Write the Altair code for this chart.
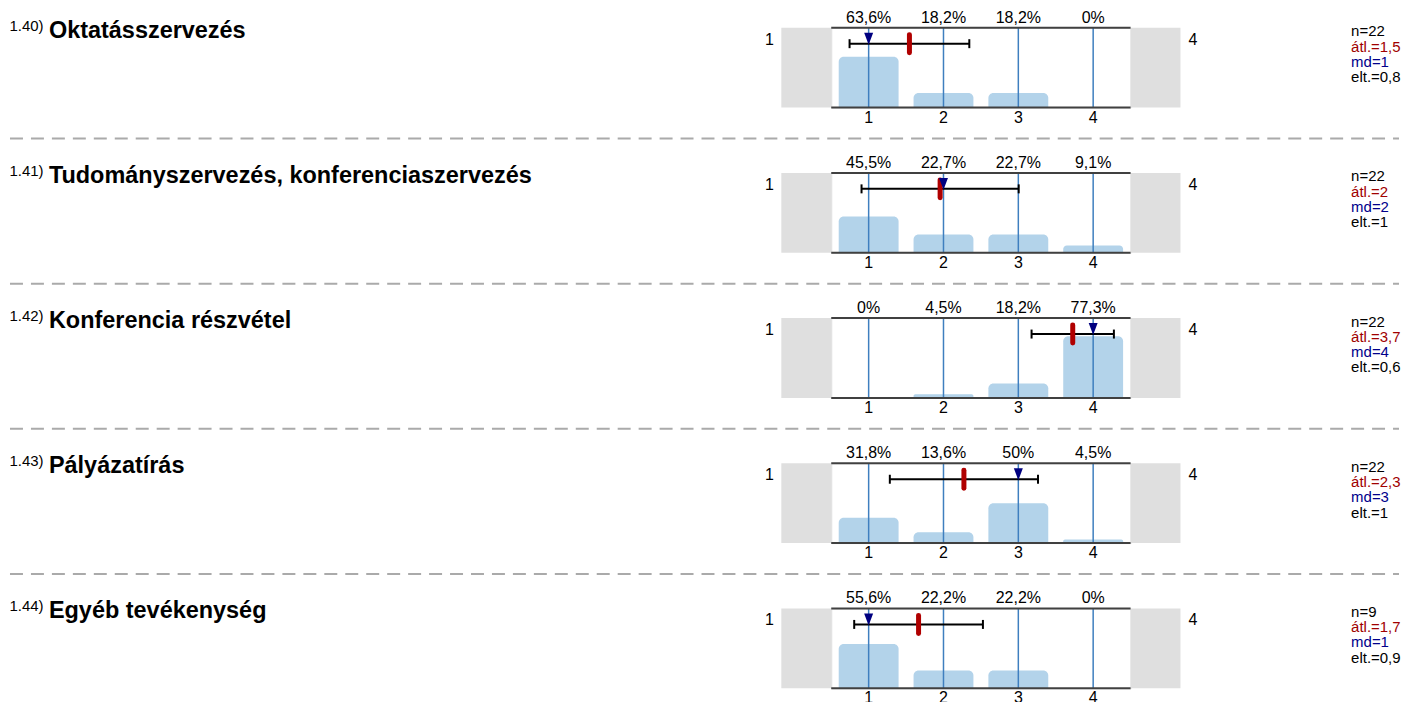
import altair as alt
import pandas as pd

codes = ["1.40)", "1.41)", "1.42)", "1.43)", "1.44)"]
titles = [
    "Oktatásszervezés",
    "Tudományszervezés, konferenciaszervezés",
    "Konferencia részvétel",
    "Pályázatírás",
    "Egyéb tevékenység",
]
categories = [1, 2, 3, 4]
percents = [
    [63.6, 18.2, 18.2, 0],
    [45.5, 22.7, 22.7, 9.1],
    [0, 4.5, 18.2, 77.3],
    [31.8, 13.6, 50, 4.5],
    [55.6, 22.2, 22.2, 0],
]
n_values = [22, 22, 22, 22, 9]
means = [1.545, 1.955, 3.727, 2.273, 1.667]
mean_labels = ["1,5", "2", "3,7", "2,3", "1,7"]
medians = [1, 2, 4, 3, 1]
sds = [0.8, 1.05, 0.55, 0.99, 0.86]
sd_labels = ["0,8", "1", "0,6", "1", "0,9"]

FONT = "Liberation Sans"
BAR_COLOR = "#b3d3ea"
LINE_BLUE = "#3f7fbf"
GREY_BOX = "#dfdfdf"
FRAME = "#404040"
MEAN_RED = "#b00000"
MEDIAN_BLUE = "#000080"


def fmt_pct(p):
    return f"{p:g}".replace(".", ",") + "%"


def row_chart(i, last=False):
    cat_df = pd.DataFrame({
        "cat": categories,
        "catlabel": [str(c) for c in categories],
        "pct": percents[i],
        "label": [fmt_pct(p) for p in percents[i]],
    })
    st = pd.DataFrame([{
        "mean": means[i],
        "lo": means[i] - sds[i],
        "hi": means[i] + sds[i],
        "median": medians[i],
        "code": codes[i],
        "title": titles[i],
        "n": f"n={n_values[i]}",
        "atl": f"átl.={mean_labels[i]}",
        "md": f"md={medians[i]}",
        "elt": f"elt.={sd_labels[i]}",
        "left": str(categories[0]),
        "right": str(categories[-1]),
    }])
    xs = alt.Scale(domain=[0.5, 4.5], nice=False, zero=False)
    base_st = alt.Chart(st)
    base_cat = alt.Chart(cat_df)

    grey_l = base_st.mark_rect(color=GREY_BOX).encode(
        x=alt.value(-50), x2=alt.value(0), y=alt.value(0), y2=alt.value(80))
    grey_r = base_st.mark_rect(color=GREY_BOX).encode(
        x=alt.value(300), x2=alt.value(350), y=alt.value(0), y2=alt.value(80))

    bars = base_cat.transform_calculate(
        xa="datum.cat - 0.4", xb="datum.cat + 0.4"
    ).mark_bar(color=BAR_COLOR, cornerRadiusTopLeft=5, cornerRadiusTopRight=5).encode(
        x=alt.X("xa:Q", scale=xs, axis=None),
        x2="xb:Q",
        y=alt.Y("pct:Q", scale=alt.Scale(domain=[0, 100], nice=False), axis=None),
        y2=alt.datum(0),
    )

    vlines = base_cat.mark_rule(color=LINE_BLUE, strokeWidth=1.5).encode(
        x=alt.X("cat:Q", scale=xs, axis=None),
        y=alt.value(0), y2=alt.value(80))

    top_line = base_st.mark_rule(color=FRAME, strokeWidth=2).encode(
        x=alt.value(0), x2=alt.value(300), y=alt.value(0))
    bot_line = base_st.mark_rule(color=FRAME, strokeWidth=2).encode(
        x=alt.value(0), x2=alt.value(300), y=alt.value(80))

    pct_text = base_cat.mark_text(fontSize=16, baseline="middle", font=FONT).encode(
        x=alt.X("cat:Q", scale=xs, axis=None), y=alt.value(-10), text="label:N")
    axis_text = base_cat.mark_text(fontSize=16, baseline="middle", font=FONT).encode(
        x=alt.X("cat:Q", scale=xs, axis=None), y=alt.value(90), text="catlabel:N")

    err = base_st.mark_rule(color="black", strokeWidth=2).encode(
        x=alt.X("lo:Q", scale=xs, axis=None), x2="hi:Q", y=alt.value(16))
    caps = base_st.transform_fold(["lo", "hi"], as_=["k", "v"]).mark_rule(
        color="black", strokeWidth=2).encode(
        x=alt.X("v:Q", scale=xs, axis=None), y=alt.value(11.5), y2=alt.value(20.5))
    mean_mark = base_st.mark_rule(color=MEAN_RED, strokeWidth=5, strokeCap="round").encode(
        x=alt.X("mean:Q", scale=xs, axis=None), y=alt.value(7), y2=alt.value(25))
    median_mark = base_st.mark_point(
        shape="M-0.75,-1L0.75,-1L0,1Z", filled=True, color=MEDIAN_BLUE,
        size=144, opacity=1).encode(
        x=alt.X("median:Q", scale=xs, axis=None), y=alt.value(11))

    code_text = base_st.mark_text(fontSize=15, align="left", baseline="alphabetic",
                                  font=FONT).encode(
        x=alt.value(-823.5), y=alt.value(3), text="code:N")
    title_text = base_st.mark_text(fontSize=23.5, fontWeight="bold", align="left",
                                   baseline="alphabetic", font=FONT).encode(
        x=alt.value(-784), y=alt.value(10), text="title:N")

    left_lab = base_st.mark_text(fontSize=16, baseline="middle", font=FONT).encode(
        x=alt.value(-62), y=alt.value(12), text="left:N")
    right_lab = base_st.mark_text(fontSize=16, baseline="middle", font=FONT).encode(
        x=alt.value(362.5), y=alt.value(12), text="right:N")

    stats = []
    for field, color, yy in [("n", "black", 3.5), ("atl", "#a00000", 19),
                             ("md", "#00008b", 34), ("elt", "black", 49.5)]:
        stats.append(base_st.mark_text(fontSize=15, align="left", baseline="middle",
                                       color=color, font=FONT).encode(
            x=alt.value(521), y=alt.value(yy), text=f"{field}:N"))

    layers = [grey_l, grey_r, bars, vlines, top_line, bot_line, pct_text, axis_text,
              err, caps, mean_mark, median_mark, code_text, title_text,
              left_lab, right_lab] + stats

    if not last:
        sep = base_st.mark_rule(color="#aaaaaa", strokeWidth=2, strokeDash=[13, 8]).encode(
            x=alt.value(-823), x2=alt.value(569), y=alt.value(111))
        layers.append(sep)

    return alt.layer(*layers).properties(width=300, height=80)


rows = [row_chart(i, last=(i == len(titles) - 1)) for i in range(len(titles))]

chart = alt.vconcat(*rows, spacing=65.5, bounds="flush").properties(
    padding=0
).configure_view(stroke=None).configure(font=FONT)

chart.save("out.html", embed_options={"renderer": "svg", "actions": False})
